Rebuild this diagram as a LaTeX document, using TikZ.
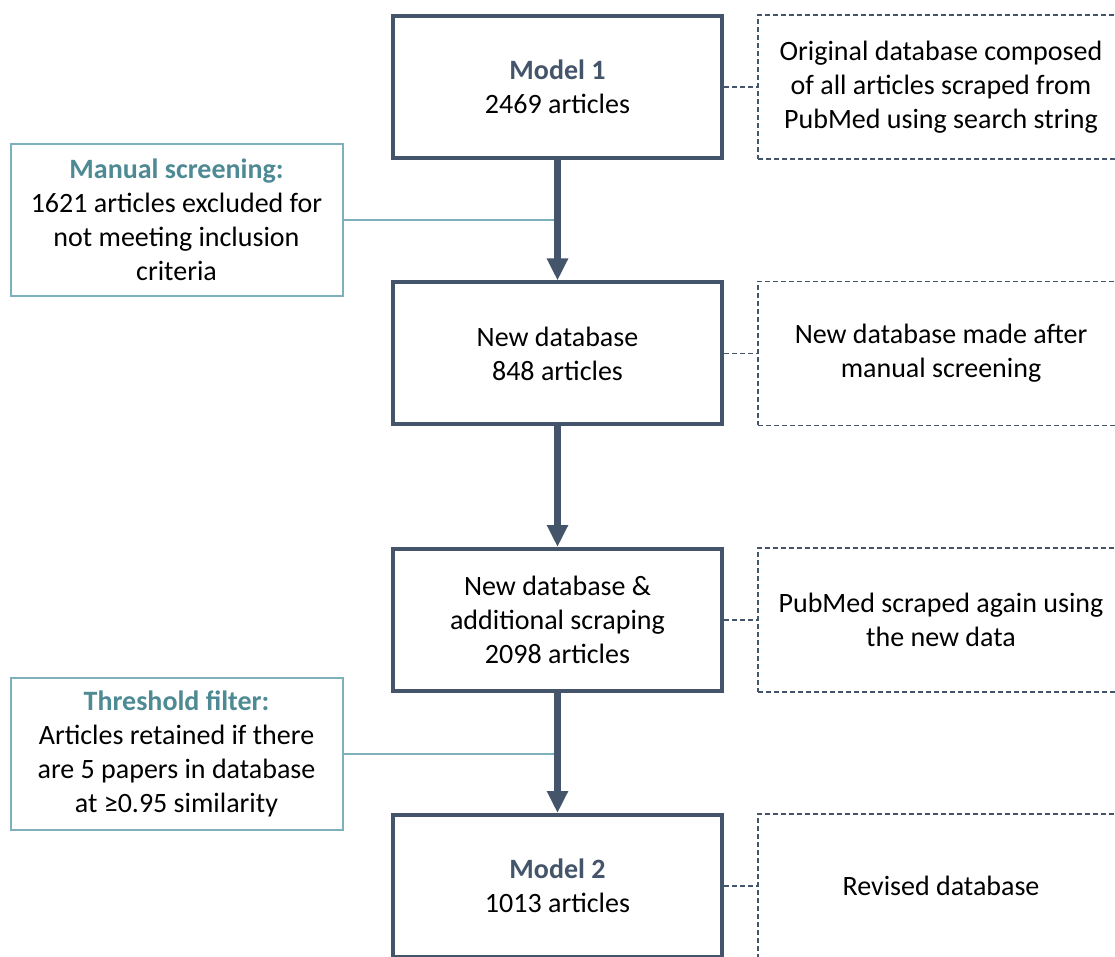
\documentclass[tikz,border=0pt]{standalone}
\usepackage{fontspec}
\setmainfont{Carlito}
\usepackage{xcolor}
\usepackage{tikz}
\usetikzlibrary{arrows.meta}
\definecolor{slate}{HTML}{44546A}
\definecolor{tealtext}{HTML}{4E8A94}
\definecolor{tealline}{HTML}{7DB0BA}

\begin{document}
\begin{tikzpicture}[x=0.5pt,y=-0.5pt,
mainbox/.style={draw=slate,line width=2pt,minimum width=164.5pt,minimum height=71pt,align=center,font=\fontsize{14}{17}\selectfont},
notebox/.style={draw=slate,line width=0.9pt,dash pattern=on 2.5pt off 1.5pt,minimum width=183pt,minimum height=72pt,align=center,font=\fontsize{14}{17}\selectfont},
sidebox/.style={draw=tealline,line width=1pt,minimum width=166pt,minimum height=76pt,align=center,font=\fontsize{14}{17}\selectfont},
flow/.style={slate,line width=3.5pt,-{Triangle[width=10pt,length=11pt]}},
link/.style={slate,line width=0.9pt,dash pattern=on 2.5pt off 1.5pt},
side/.style={tealline,line width=1pt}]
\clip(0,0)rectangle(1115,957);
\node[mainbox](m1)at(557.5,87){\textcolor{slate}{\textbf{Model 1}}\\2469 articles};
\node[mainbox](m2)at(557.5,353.5){New database\\848 articles};
\node[mainbox](m3)at(557.5,620){New database \&\\additional scraping\\2098 articles};
\node[mainbox](m4)at(557.5,886){\textcolor{slate}{\textbf{Model 2}}\\1013 articles};
\node[notebox](n1)at(941,87){Original database composed\\of all articles scraped from\\PubMed using search string};
\node[notebox](n2)at(941,353.5){New database made after\\manual screening};
\node[notebox](n3)at(941,620){PubMed scraped again using\\the new data};
\node[notebox](n4)at(941,886){Revised database};
\node[sidebox](manual)at(176.5,220){\textcolor{tealtext}{\textbf{Manual screening:}}\\1621 articles excluded for\\not meeting inclusion\\criteria};
\node[sidebox](thresh)at(176.5,754){\textcolor{tealtext}{\textbf{Threshold filter:}}\\Articles retained if there\\are 5 papers in database\\at ≥0.95 similarity};
\draw[side](manual.east)--(manual.east-|m1.south);
\draw[side](thresh.east)--(thresh.east-|m3.south);
\draw[flow](m1.south)--(m2.north);
\draw[flow](m2.south)--(m3.north);
\draw[flow](m3.south)--(m4.north);
\draw[link](m1.east)--(n1.west);
\draw[link](m2.east)--(n2.west);
\draw[link](m3.east)--(n3.west);
\draw[link](m4.east)--(n4.west);
\end{tikzpicture}
\end{document}
